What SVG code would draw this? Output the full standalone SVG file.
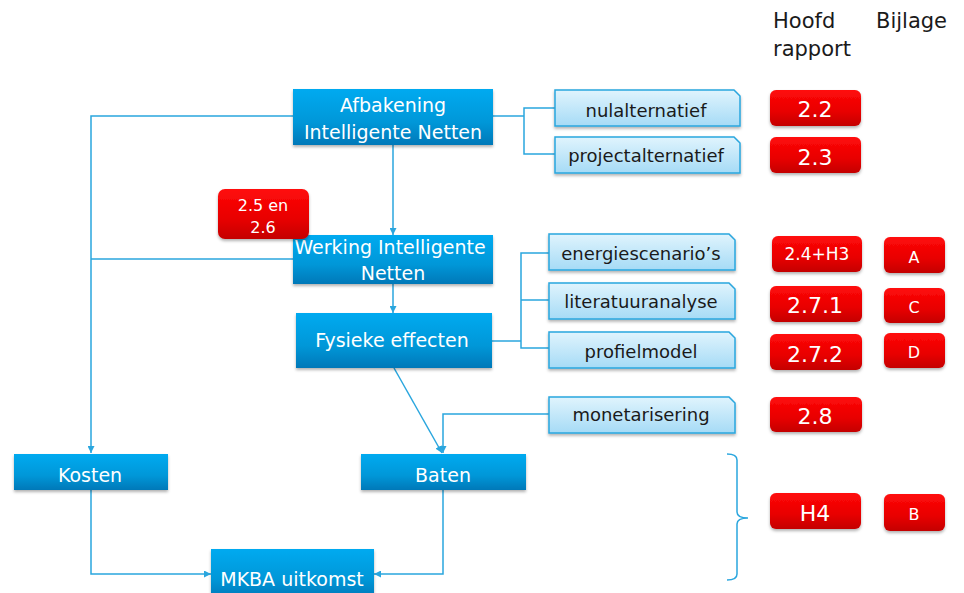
<svg xmlns="http://www.w3.org/2000/svg" width="964" height="593" viewBox="0 0 964 593">
<style>
  text { font-family: "DejaVu Sans", "Liberation Sans", sans-serif; text-anchor: middle; }
  .node rect { fill: url(#gBlue); filter: url(#sh); }
  .node text { fill: #ffffff; font-size: 19px; }
  .lt path { fill: url(#gLight); stroke: #2aa6de; stroke-width: 1.5; filter: url(#sh); }
  .lt text { fill: #1a1a1a; font-size: 18px; }
  .rd rect { fill: url(#gRed); filter: url(#sh); }
  .rd text { fill: #ffffff; font-size: 22px; }
  .hdr { fill: #1a1a1a; font-size: 21px; text-anchor: start; }
  .con { fill: none; stroke: #2aa6de; stroke-width: 1.5; }
</style>
<defs>
  <linearGradient id="gBlue" x1="0" y1="0" x2="0" y2="1">
    <stop offset="0" stop-color="#00aaf0"/>
    <stop offset="0.6" stop-color="#0097d8"/>
    <stop offset="1" stop-color="#0078b8"/>
  </linearGradient>
  <linearGradient id="gLight" x1="0" y1="0" x2="0" y2="1">
    <stop offset="0" stop-color="#e0f4fd"/>
    <stop offset="1" stop-color="#a6dbf6"/>
  </linearGradient>
  <linearGradient id="gRed" x1="0" y1="0" x2="0" y2="1">
    <stop offset="0" stop-color="#ff0a0a"/>
    <stop offset="0.6" stop-color="#e80000"/>
    <stop offset="1" stop-color="#c40000"/>
  </linearGradient>
  <filter id="sh" x="-10%" y="-20%" width="120%" height="150%">
    <feDropShadow dx="0" dy="2" stdDeviation="1.5" flood-color="#000" flood-opacity="0.3"/>
  </filter>
  <marker id="arr" viewBox="0 0 10 10" refX="10" refY="5" markerWidth="7" markerHeight="7" markerUnits="userSpaceOnUse" orient="auto">
    <path d="M0,0 L10,5 L0,10 z" fill="#2aa6de"/>
  </marker>
</defs>

<text class="hdr" x="773" y="28">Hoofd</text>
<text class="hdr" x="773" y="56">rapport</text>
<text class="hdr" x="876" y="28">Bijlage</text>

<g id="connectors">
  <path class="con" d="M393,145 V235" marker-end="url(#arr)"/>
  <path class="con" d="M393,284 V313" marker-end="url(#arr)"/>
  <path class="con" d="M293,116 H91 V453" marker-end="url(#arr)"/>
  <path class="con" d="M293,259 H91"/>
  <path class="con" d="M394,368 L442,453" marker-end="url(#arr)"/>
  <path class="con" d="M549,414 H443 V453" marker-end="url(#arr)"/>
  <path class="con" d="M91,490 V574 H211" marker-end="url(#arr)"/>
  <path class="con" d="M443,490 V574 H374" marker-end="url(#arr)"/>
  <path class="con" d="M493,116 H524"/>
  <path class="con" d="M555,108 H524 V154 H555"/>
  <path class="con" d="M492,341 H521"/>
  <path class="con" d="M549,253 H521 V348 H549 M521,300 H549"/>
  <path class="con" d="M727,454 Q737,454 737,460 V512 Q737,518 748,518 Q737,518 737,524 V574 Q737,580 727,580"/>
</g>

<g id="afbakening" class="node">
  <rect x="293" y="89" width="200" height="56"/>
  <text x="393" y="112">Afbakening</text>
  <text x="393" y="139">Intelligente Netten</text>
</g>
<g id="werking" class="node">
  <rect x="293" y="235" width="200" height="49"/>
  <text x="390" y="254">Werking Intelligente</text>
  <text x="393" y="280">Netten</text>
</g>
<g id="fysieke" class="node">
  <rect x="296" y="313" width="196" height="55"/>
  <text x="392" y="347">Fysieke effecten</text>
</g>
<g id="kosten" class="node">
  <rect x="14" y="454" width="154" height="36"/>
  <text x="90" y="482">Kosten</text>
</g>
<g id="baten" class="node">
  <rect x="361" y="454" width="165" height="36"/>
  <text x="443" y="482">Baten</text>
</g>
<g id="mkba" class="node">
  <rect x="211" y="549" width="163" height="50"/>
  <text x="292" y="586">MKBA uitkomst</text>
</g>

<g id="nulalternatief" class="lt">
  <path d="M555,90 H734 L740,96 V126 H555 Z"/>
  <text x="646" y="117">nulalternatief</text>
</g>
<g id="projectalternatief" class="lt">
  <path d="M555,137 H734 L740,143 V173 H555 Z"/>
  <text x="646" y="162">projectalternatief</text>
</g>
<g id="energiescenarios" class="lt">
  <path d="M549,234 H729 L735,240 V270 H549 Z"/>
  <text x="641" y="260">energiescenario’s</text>
</g>
<g id="literatuuranalyse" class="lt">
  <path d="M549,283 H729 L735,289 V319 H549 Z"/>
  <text x="641" y="308">literatuuranalyse</text>
</g>
<g id="profielmodel" class="lt">
  <path d="M549,332 H729 L735,338 V368 H549 Z"/>
  <text x="641" y="358">profielmodel</text>
</g>
<g id="monetarisering" class="lt">
  <path d="M549,397 H729 L735,403 V433 H549 Z"/>
  <text x="641" y="421">monetarisering</text>
</g>

<g id="r25" class="rd">
  <rect x="218" y="189" width="91" height="50" rx="7"/>
  <text x="263" y="211" style="font-size:16px">2.5 en</text>
  <text x="263" y="233" style="font-size:16px">2.6</text>
</g>
<g id="r22" class="rd">
  <rect x="770" y="90" width="91" height="36" rx="6"/>
  <text x="815" y="117">2.2</text>
</g>
<g id="r23" class="rd">
  <rect x="770" y="137" width="91" height="36" rx="6"/>
  <text x="815" y="165">2.3</text>
</g>
<g id="r24" class="rd">
  <rect x="772" y="236" width="90" height="36" rx="6"/>
  <text x="817" y="260" style="font-size:17px">2.4+H3</text>
</g>
<g id="r271" class="rd">
  <rect x="770" y="286" width="92" height="36" rx="6"/>
  <text x="815" y="313">2.7.1</text>
</g>
<g id="r272" class="rd">
  <rect x="770" y="334" width="92" height="36" rx="6"/>
  <text x="815" y="362">2.7.2</text>
</g>
<g id="r28" class="rd">
  <rect x="770" y="397" width="92" height="35" rx="6"/>
  <text x="815" y="424">2.8</text>
</g>
<g id="rH4" class="rd">
  <rect x="770" y="493" width="91" height="36" rx="6"/>
  <text x="815" y="521">H4</text>
</g>
<g id="rA" class="rd">
  <rect x="884" y="237" width="61" height="36" rx="6"/>
  <text x="914" y="263" style="font-size:16px">A</text>
</g>
<g id="rC" class="rd">
  <rect x="884" y="288" width="61" height="35" rx="6"/>
  <text x="914" y="313" style="font-size:16px">C</text>
</g>
<g id="rD" class="rd">
  <rect x="884" y="333" width="61" height="35" rx="6"/>
  <text x="914" y="358" style="font-size:16px">D</text>
</g>
<g id="rB" class="rd">
  <rect x="884" y="494" width="61" height="37" rx="6"/>
  <text x="914" y="520" style="font-size:16px">B</text>
</g>
</svg>
